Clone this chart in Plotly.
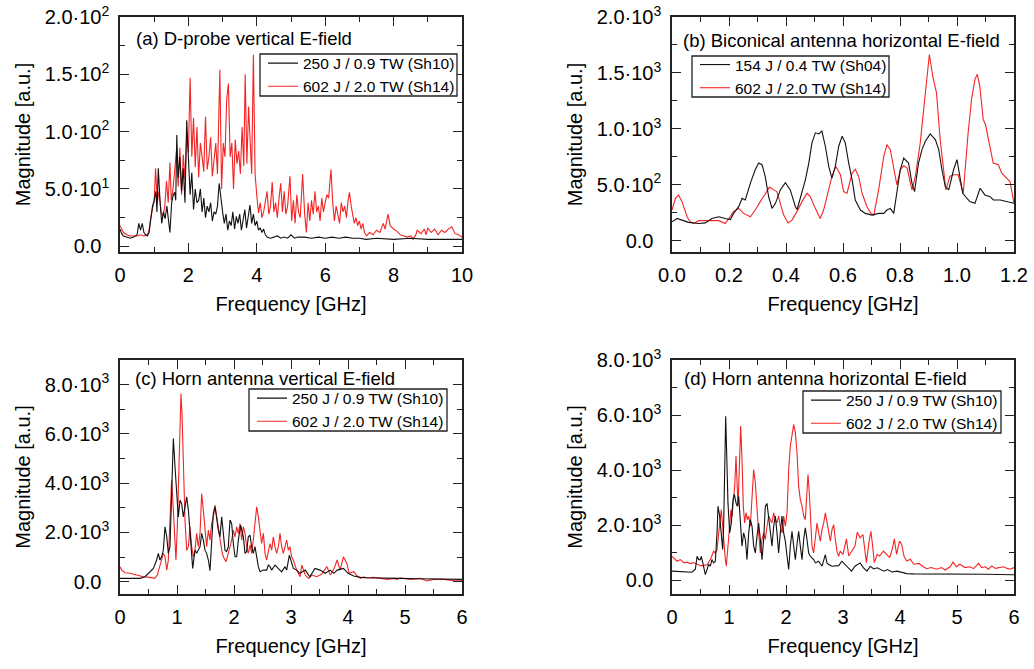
import plotly.graph_objects as go

# ---------------- data (frequency GHz, magnitude a.u.) ----------------
a_black = [(0.0,15),(0.05,11),(0.1,9),(0.2,8),(0.3,7),(0.4,8),(0.5,10),(0.55,20),(0.6,14),(0.65,20),(0.7,12),
 (0.75,10),(0.8,9),(0.85,12),(0.9,25),(0.95,35),(1.0,40),(1.05,48),(1.08,30),(1.12,68),(1.17,40),(1.22,20),
 (1.27,30),(1.32,24),(1.37,35),(1.42,20),(1.46,12),(1.51,38),(1.56,45),(1.6,47),(1.63,40),(1.66,97),(1.7,60),
 (1.75,78),(1.8,48),(1.85,68),(1.9,38),(1.95,110),(2.0,78),(2.05,45),(2.1,64),(2.15,32),(2.2,50),(2.25,38),
 (2.3,40),(2.35,50),(2.4,30),(2.45,42),(2.5,25),(2.55,35),(2.6,30),(2.65,38),(2.7,22),(2.75,30),(2.8,28),
 (2.85,35),(2.9,55),(2.95,40),(3.0,30),(3.05,20),(3.1,28),(3.15,14),(3.2,22),(3.25,18),(3.3,30),(3.35,15),
 (3.4,26),(3.45,20),(3.5,28),(3.55,14),(3.6,22),(3.65,32),(3.7,16),(3.75,25),(3.8,36),(3.85,20),(3.9,28),
 (3.95,18),(4.0,22),(4.05,14),(4.1,16),(4.15,12),(4.2,15),(4.25,10),(4.3,8),(4.4,7),(4.5,8),(4.6,9),(4.7,7),
 (4.8,8),(4.9,7),(5.0,10),(5.1,7),(5.2,8),(5.4,8),(5.6,7),(5.8,8),(6.0,7),(6.2,8),(6.4,7),(6.6,8),(6.8,7),
 (7.0,7),(7.2,6),(7.5,7),(8.0,6),(8.5,7),(9.0,6),(9.5,6),(10.0,6)]

a_red = [(0.0,18),(0.05,15),(0.1,12),(0.2,10),(0.3,9),(0.4,9),(0.5,9),(0.6,10),(0.7,9),(0.8,10),(0.85,14),
 (0.9,25),(0.95,32),(1.0,40),(1.04,68),(1.09,38),(1.14,48),(1.2,30),(1.26,26),(1.31,35),(1.36,57),(1.41,38),
 (1.46,73),(1.5,40),(1.55,50),(1.6,64),(1.65,83),(1.7,52),(1.75,86),(1.8,45),(1.85,80),(1.9,58),(1.95,98),
 (2.0,82),(2.05,147),(2.1,78),(2.15,112),(2.2,69),(2.25,104),(2.3,60),(2.35,90),(2.4,78),(2.45,65),(2.5,113),
 (2.55,67),(2.6,78),(2.65,95),(2.7,61),(2.75,78),(2.8,90),(2.85,63),(2.88,100),(2.92,154),(2.97,50),(3.02,90),
 (3.07,78),(3.12,128),(3.17,142),(3.22,78),(3.27,90),(3.32,50),(3.37,93),(3.42,72),(3.47,83),(3.52,63),
 (3.57,104),(3.62,70),(3.66,150),(3.71,72),(3.76,122),(3.8,90),(3.85,63),(3.9,167),(3.95,63),(4.0,44),
 (4.05,29),(4.1,38),(4.15,25),(4.2,30),(4.25,40),(4.3,48),(4.35,28),(4.4,35),(4.45,56),(4.5,30),(4.55,38),
 (4.6,25),(4.65,42),(4.7,55),(4.75,30),(4.8,48),(4.85,28),(4.9,35),(4.97,61),(5.02,22),(5.07,40),(5.12,20),
 (5.17,45),(5.22,30),(5.27,25),(5.34,63),(5.4,28),(5.45,12),(5.5,38),(5.55,22),(5.6,40),(5.65,28),(5.7,48),
 (5.75,30),(5.8,35),(5.85,22),(5.9,42),(5.95,30),(6.0,38),(6.05,45),(6.1,42),(6.17,67),(6.22,38),(6.27,22),
 (6.32,35),(6.37,28),(6.42,20),(6.47,38),(6.52,30),(6.57,35),(6.62,25),(6.67,40),(6.71,47),(6.76,35),(6.8,28),
 (6.85,20),(6.9,25),(6.95,18),(7.0,22),(7.05,15),(7.1,20),(7.15,12),(7.21,9),(7.3,12),(7.4,10),(7.5,14),
 (7.6,12),(7.7,20),(7.75,15),(7.84,28),(7.9,18),(8.0,15),(8.1,13),(8.2,10),(8.3,9),(8.4,8),(8.5,9),(8.57,6),
 (8.65,10),(8.69,14),(8.8,11),(8.9,15),(8.95,10),(9.0,16),(9.1,12),(9.2,15),(9.3,10),(9.4,14),(9.5,12),
 (9.6,15),(9.7,17),(9.8,11),(9.9,10),(10.0,8)]

b_black = [(0.0,170),(0.018,200),(0.035,185),(0.058,165),(0.094,155),(0.117,160),(0.14,200),(0.164,215),
 (0.187,200),(0.205,190),(0.216,245),(0.234,305),(0.246,380),(0.257,365),(0.275,515),(0.292,635),(0.304,695),
 (0.316,680),(0.327,575),(0.339,395),(0.351,290),(0.363,335),(0.38,455),(0.398,520),(0.415,455),(0.433,305),
 (0.439,280),(0.456,425),(0.468,545),(0.48,695),(0.491,875),(0.503,965),(0.515,955),(0.526,980),(0.538,845),
 (0.55,665),(0.561,560),(0.573,665),(0.585,845),(0.597,935),(0.608,875),(0.62,695),(0.632,545),(0.643,365),
 (0.661,275),(0.678,245),(0.702,230),(0.725,245),(0.743,245),(0.754,275),(0.766,290),(0.778,245),(0.789,425),
 (0.801,635),(0.813,740),(0.83,695),(0.842,515),(0.851,440),(0.865,695),(0.877,815),(0.889,890),(0.906,955),
 (0.924,905),(0.936,815),(0.947,635),(0.959,485),(0.971,455),(0.988,635),(1.0,725),(1.02,425),(1.045,350),
 (1.063,335),(1.081,470),(1.098,410),(1.116,395),(1.128,365),(1.152,365),(1.175,350),(1.2,335)]

b_red = [(0.0,275),(0.012,380),(0.023,410),(0.035,350),(0.053,215),(0.064,170),(0.076,155),(0.094,180),
 (0.129,180),(0.164,180),(0.187,155),(0.205,215),(0.216,260),(0.234,290),(0.251,245),(0.275,215),(0.292,275),
 (0.31,350),(0.327,425),(0.342,480),(0.357,455),(0.368,440),(0.38,335),(0.392,230),(0.407,160),(0.421,185),
 (0.435,245),(0.456,350),(0.474,425),(0.485,395),(0.503,290),(0.52,200),(0.532,275),(0.544,395),(0.561,575),
 (0.575,665),(0.591,590),(0.602,440),(0.614,425),(0.632,605),(0.643,640),(0.655,575),(0.667,425),(0.684,305),
 (0.698,245),(0.708,230),(0.725,455),(0.743,755),(0.754,860),(0.766,815),(0.778,635),(0.789,500),(0.801,635),
 (0.813,670),(0.825,650),(0.842,455),(0.854,575),(0.871,875),(0.883,1175),(0.895,1500),(0.903,1665),
 (0.915,1470),(0.928,1323),(0.941,904),(0.961,455),(0.975,575),(0.987,590),(1.004,590),(1.022,425),
 (1.039,964),(1.051,1263),(1.063,1443),(1.071,1488),(1.08,1383),(1.092,1084),(1.1,1039),(1.114,874),
 (1.127,695),(1.145,680),(1.157,605),(1.174,560),(1.186,530),(1.2,335)]

c_black = [(0.0,135),(0.175,135),(0.35,135),(0.44,200),(0.53,400),(0.585,540),(0.643,880),(0.673,1150),
 (0.70,880),(0.73,1010),(0.76,1280),(0.79,2230),(0.82,1820),(0.848,1150),(0.877,1420),(0.906,3580),
 (0.936,5810),(0.965,4660),(0.994,3580),(1.023,2630),(1.053,3310),(1.082,3170),(1.111,2630),(1.14,3040),
 (1.17,3440),(1.2,2900),(1.228,1960),(1.257,880),(1.275,540),(1.316,1280),(1.345,1150),(1.404,1420),
 (1.433,1960),(1.462,1690),(1.491,1280),(1.52,1150),(1.55,880),(1.579,450),(1.608,1690),(1.637,2770),
 (1.667,3040),(1.696,2500),(1.725,2090),(1.754,1820),(1.784,2630),(1.813,1960),(1.842,1280),(1.871,1220),
 (1.9,1420),(1.93,2500),(1.959,2360),(1.988,1550),(2.018,1010),(2.047,1010),(2.076,1690),(2.117,2300),
 (2.164,1820),(2.193,1150),(2.222,1220),(2.251,1820),(2.281,1890),(2.31,1420),(2.339,1150),(2.368,1420),
 (2.398,1010),(2.427,610),(2.456,400),(2.515,470),(2.573,470),(2.602,675),(2.632,610),(2.661,470),
 (2.719,675),(2.778,540),(2.836,400),(2.895,610),(2.924,470),(2.971,1080),(3.012,810),(3.041,540),
 (3.099,470),(3.158,340),(3.25,470),(3.33,200),(3.42,540),(3.51,470),(3.6,340),(3.69,470),(3.75,340),
 (3.81,470),(3.92,540),(4.0,340),(4.1,230),(4.22,175),(4.33,160),(4.63,135),(4.92,135),(5.21,120),
 (5.5,110),(6.0,95)]

c_red = [(0.0,610),(0.03,470),(0.088,365),(0.175,340),(0.292,270),(0.41,200),(0.526,175),(0.61,135),
 (0.655,270),(0.70,610),(0.73,880),(0.76,1150),(0.79,1010),(0.82,470),(0.848,880),(0.877,2630),(0.906,4120),
 (0.936,2900),(0.965,1690),(0.982,880),(1.006,2230),(1.035,4930),(1.053,6960),(1.07,7630),(1.088,6820),
 (1.111,4530),(1.14,2500),(1.17,1280),(1.2,1420),(1.228,2230),(1.257,1420),(1.287,1010),(1.316,1280),
 (1.345,1960),(1.374,1420),(1.404,1960),(1.433,3580),(1.462,2900),(1.491,1960),(1.52,1420),(1.55,2090),
 (1.579,1690),(1.608,2360),(1.637,2630),(1.667,3110),(1.696,2630),(1.725,2090),(1.754,1690),(1.784,1280),
 (1.813,1010),(1.86,810),(1.9,1150),(1.93,1420),(1.959,1690),(1.988,2090),(2.018,1820),(2.047,2230),
 (2.076,1960),(2.105,2360),(2.135,1690),(2.164,2230),(2.193,1960),(2.222,1420),(2.251,1150),(2.281,1500),
 (2.31,1150),(2.339,1690),(2.368,2500),(2.398,3040),(2.427,2630),(2.456,1960),(2.485,1550),(2.515,1960),
 (2.544,1150),(2.573,880),(2.602,1220),(2.632,1550),(2.661,1280),(2.69,1820),(2.719,1420),(2.749,1150),
 (2.778,1420),(2.807,1960),(2.836,1420),(2.865,1150),(2.895,1420),(2.924,1690),(2.953,1280),(2.982,1420),
 (3.012,1010),(3.041,880),(3.099,470),(3.16,200),(3.19,675),(3.25,270),(3.31,135),(3.37,270),(3.45,200),
 (3.54,310),(3.63,610),(3.69,270),(3.75,500),(3.81,880),(3.86,470),(3.92,1010),(3.98,740),(4.02,340),
 (4.1,405),(4.16,230),(4.22,135),(4.27,200),(4.33,150),(4.45,175),(4.57,135),(4.69,95),(4.8,135),(4.86,95),
 (4.92,150),(5.1,95),(5.27,135),(5.38,30),(5.5,95),(5.68,95),(5.85,40),(6.0,40)]

d_black = [(0.0,330),(0.175,300),(0.35,290),(0.41,400),(0.44,870),(0.468,750),(0.497,750),(0.515,870),
 (0.556,510),(0.585,205),(0.614,390),(0.643,570),(0.673,510),(0.70,750),(0.73,630),(0.76,690),(0.79,1720),
 (0.807,2690),(0.836,2330),(0.86,1720),(0.889,1115),(0.906,1960),(0.924,4390),(0.942,5960),(0.959,4630),
 (0.982,2810),(1.012,1720),(1.041,2080),(1.07,2930),(1.094,3115),(1.123,2810),(1.146,2690),(1.17,3050),
 (1.2,2200),(1.228,1240),(1.257,1720),(1.287,1480),(1.316,750),(1.345,1720),(1.374,2200),(1.404,1960),
 (1.433,1240),(1.462,990),(1.491,1600),(1.52,2080),(1.55,1480),(1.579,750),(1.608,1480),(1.637,2690),
 (1.667,2790),(1.696,2330),(1.725,1720),(1.754,1240),(1.784,1960),(1.813,2330),(1.842,1720),(1.871,990),
 (1.9,1720),(1.93,2330),(1.959,1720),(1.988,1420),(2.018,870),(2.047,390),(2.076,1240),(2.105,1780),
 (2.135,1240),(2.164,750),(2.193,1300),(2.222,1780),(2.251,1240),(2.281,750),(2.31,1480),(2.339,1900),
 (2.368,1480),(2.398,990),(2.427,870),(2.456,810),(2.485,750),(2.515,630),(2.573,690),(2.632,510),
 (2.661,750),(2.69,930),(2.719,630),(2.749,570),(2.807,510),(2.865,510),(2.924,530),(2.98,690),(3.04,570),
 (3.09,450),(3.15,330),(3.21,510),(3.3,630),(3.36,450),(3.42,330),(3.48,510),(3.54,410),(3.6,450),(3.66,390),
 (3.72,330),(3.78,390),(3.86,300),(3.95,330),(4.03,290),(4.12,240),(4.24,230),(4.35,230),(4.5,230),
 (5.0,225),(5.5,215),(6.0,200)]

d_red = [(0.0,870),(0.03,810),(0.088,690),(0.146,750),(0.205,640),(0.263,650),(0.322,605),(0.38,640),
 (0.439,590),(0.497,530),(0.556,530),(0.614,560),(0.673,750),(0.73,1050),(0.76,990),(0.79,1115),(0.82,1720),
 (0.848,2330),(0.865,2570),(0.889,1960),(0.912,1240),(0.936,750),(0.953,510),(0.982,1240),(1.006,1960),
 (1.035,2570),(1.053,2330),(1.082,2930),(1.1,3420),(1.123,4510),(1.14,3660),(1.158,2690),(1.181,4020),
 (1.205,5600),(1.228,4390),(1.251,2690),(1.275,2080),(1.298,2450),(1.322,2200),(1.345,2330),(1.374,1960),
 (1.404,3180),(1.433,4020),(1.462,3540),(1.491,2450),(1.52,1720),(1.55,990),(1.579,1480),(1.608,1720),
 (1.637,1480),(1.667,1960),(1.696,2330),(1.725,2200),(1.754,2080),(1.784,2450),(1.813,2200),(1.842,2080),
 (1.871,2330),(1.9,1960),(1.93,1720),(1.959,2330),(1.988,1960),(2.018,2450),(2.047,4020),(2.076,4870),
 (2.105,5240),(2.135,5660),(2.164,5360),(2.193,4630),(2.222,3420),(2.251,2930),(2.281,2690),(2.31,2330),
 (2.339,2200),(2.368,3180),(2.386,3840),(2.409,3180),(2.433,1960),(2.456,1240),(2.485,990),(2.515,1600),
 (2.544,2080),(2.573,1720),(2.602,1420),(2.632,1840),(2.661,2080),(2.69,2450),(2.719,2080),(2.749,1720),
 (2.778,1420),(2.807,1840),(2.836,2020),(2.865,1480),(2.895,1050),(2.924,870),(2.95,1060),(3.0,940),
 (3.06,1500),(3.1,880),(3.14,1000),(3.21,1240),(3.25,1740),(3.3,1540),(3.35,1660),(3.38,1240),(3.41,640),
 (3.46,1450),(3.49,1780),(3.52,1240),(3.55,640),(3.6,940),(3.64,880),(3.71,1060),(3.77,940),(3.82,820),
 (3.87,1180),(3.9,1500),(3.94,940),(3.99,1420),(4.03,1300),(4.07,880),(4.12,700),(4.18,760),(4.24,580),
 (4.33,610),(4.41,490),(4.47,420),(4.55,460),(4.64,400),(4.73,460),(4.79,370),(4.88,490),(4.93,660),
 (4.99,490),(5.05,580),(5.14,460),(5.23,490),(5.29,420),(5.38,610),(5.43,460),(5.5,490),(5.55,400),
 (5.61,520),(5.67,430),(5.73,460),(5.82,490),(5.88,430),(5.93,400),(6.0,460)]

label_sh10 = "250 J / 0.9 TW (Sh10)"
label_sh04 = "154 J / 0.4 TW (Sh04)"
label_sh14 = "602 J / 2.0 TW (Sh14)"
panel_titles = ["(a) D-probe vertical E-field", "(b) Biconical antenna horizontal E-field",
                "(c) Horn antenna vertical E-field", "(d) Horn antenna horizontal E-field"]
ZERO = "0.0<sup>\u00a0\u00a0</sup>"
ytick_a = ([0, 50, 100, 150, 200], [ZERO, "5.0·10<sup>1</sup>", "1.0·10<sup>2</sup>", "1.5·10<sup>2</sup>", "2.0·10<sup>2</sup>"])
ytick_b = ([0, 500, 1000, 1500, 2000], [ZERO, "5.0·10<sup>2</sup>", "1.0·10<sup>3</sup>", "1.5·10<sup>3</sup>", "2.0·10<sup>3</sup>"])
ytick_cd = ([0, 2000, 4000, 6000, 8000], [ZERO, "2.0·10<sup>3</sup>", "4.0·10<sup>3</sup>", "6.0·10<sup>3</sup>", "8.0·10<sup>3</sup>"])

# ---------------- figure ----------------
FONT = "Liberation Sans, Arial, sans-serif"
RED = "#f42424"
BLACK = "#111111"
FRAME = "#222222"
OFF = 0                      # body margin removed by the post script below
W, H = 1034, 669

def unzip(p):
    return [q[0] for q in p], [q[1] for q in p]

def px_x(v):
    return (v - OFF) / W

def px_y(v):
    return 1 - (v - OFF) / H

panels = [
    dict(n="", black=a_black, red=a_red, blabel=label_sh10, xr=[0, 10], xd=2, xm=1, xfmt="d",
         yr=[-5, 200], yt=ytick_a, ym=25, left=120, right=462, top=17, bot=252,
         box=(260, 457, 54, 96), ttl=(134, 39)),
    dict(n="2", black=b_black, red=b_red, blabel=label_sh04, xr=[0, 1.2], xd=0.2, xm=0.1, xfmt=".1f",
         yr=[-100, 2000], yt=ytick_b, ym=250, left=672, right=1014, top=17, bot=252,
         box=(692, 889, 56, 97), ttl=(681, 40)),
    dict(n="3", black=c_black, red=c_red, blabel=label_sh10, xr=[0, 6], xd=1, xm=0.5, xfmt="d",
         yr=[-500, 9000], yt=ytick_cd, ym=1000, left=120, right=462, top=360, bot=594,
         box=(249, 447, 389, 431), ttl=(133, 378)),
    dict(n="4", black=d_black, red=d_red, blabel=label_sh10, xr=[0, 6], xd=1, xm=0.5, xfmt="d",
         yr=[-500, 8000], yt=ytick_cd, ym=1000, left=672, right=1014, top=360, bot=594,
         box=(803, 1001, 391, 433), ttl=(682, 378)),
]

fig = go.Figure()
layout = dict(width=W, height=H, margin=dict(l=0, r=0, t=0, b=0, autoexpand=False), paper_bgcolor="white",
              plot_bgcolor="white", font=dict(family=FONT, color="black"), showlegend=True)
annotations = []
shapes = []

for i, p in enumerate(panels):
    xa, ya = "x" + p["n"], "y" + p["n"]
    lg = "legend" + p["n"]
    rx, ry = unzip(p["red"])
    bx, by = unzip(p["black"])
    fig.add_trace(go.Scatter(x=rx, y=ry, mode="lines", line=dict(color=RED, width=1.1),
                             name=label_sh14, xaxis=xa, yaxis=ya, legend=lg, legendrank=2))
    fig.add_trace(go.Scatter(x=bx, y=by, mode="lines", line=dict(color=BLACK, width=1.1),
                             name=p["blabel"], xaxis=xa, yaxis=ya, legend=lg, legendrank=1))
    common = dict(showline=True, linecolor=FRAME, linewidth=1.5, mirror="ticks", ticks="inside",
                  ticklen=9, tickwidth=1.3, tickcolor=FRAME, showgrid=False, zeroline=False,
                  automargin=False, ticklabeloverflow="allow",
                  tickfont=dict(size=20, family=FONT, color="black"))
    layout["xaxis" + p["n"]] = dict(
        common, domain=[px_x(p["left"]), px_x(p["right"])], anchor=ya, range=p["xr"],
        tickmode="linear", tick0=0, dtick=p["xd"], tickformat=p["xfmt"],
        minor=dict(ticks="inside", ticklen=5, tickwidth=1.3, tickcolor=FRAME, dtick=p["xm"], tick0=0, showgrid=False),
        title=dict(text="Frequency [GHz]", font=dict(size=20, family=FONT), standoff=12),
        ticklabelstandoff=4)
    layout["yaxis" + p["n"]] = dict(
        common, domain=[px_y(p["bot"]), px_y(p["top"])], anchor=xa, range=p["yr"],
        tickmode="array", tickvals=p["yt"][0], ticktext=p["yt"][1],
        minor=dict(ticks="inside", ticklen=5, tickwidth=1.3, tickcolor=FRAME, dtick=p["ym"], tick0=0, showgrid=False),
        title=dict(text="Magnitude [a.u.]", font=dict(size=20, family=FONT), standoff=9),
        ticklabelstandoff=5)
    bl, br, bt, bb = p["box"]
    shapes.append(dict(type="rect", xref="paper", yref="paper", x0=px_x(bl), x1=px_x(br),
                       y0=px_y(bb), y1=px_y(bt), line=dict(color="#222222", width=1.3),
                       fillcolor="white", layer="above"))
    layout[lg] = dict(x=px_x(bl + 3), y=px_y((bt + bb) / 2), xanchor="left", yanchor="middle",
                      xref="paper", yref="paper", bgcolor="rgba(0,0,0,0)", borderwidth=0,
                      font=dict(size=15.5, family=FONT, color="black"), tracegroupgap=0,
                      itemwidth=30, traceorder="normal")
    annotations.append(dict(text=panel_titles[i], x=px_x(p["ttl"][0]), y=px_y(p["ttl"][1]),
                            xref="paper", yref="paper", xanchor="left", yanchor="middle",
                            showarrow=False, font=dict(size=18.5, family=FONT, color="black")))

layout["annotations"] = annotations
layout["shapes"] = shapes
fig.update_layout(**layout)
fig.write_html("out.html", config={"displayModeBar": False},
               post_script="document.body.style.margin='0px';document.body.style.overflow='hidden';")
